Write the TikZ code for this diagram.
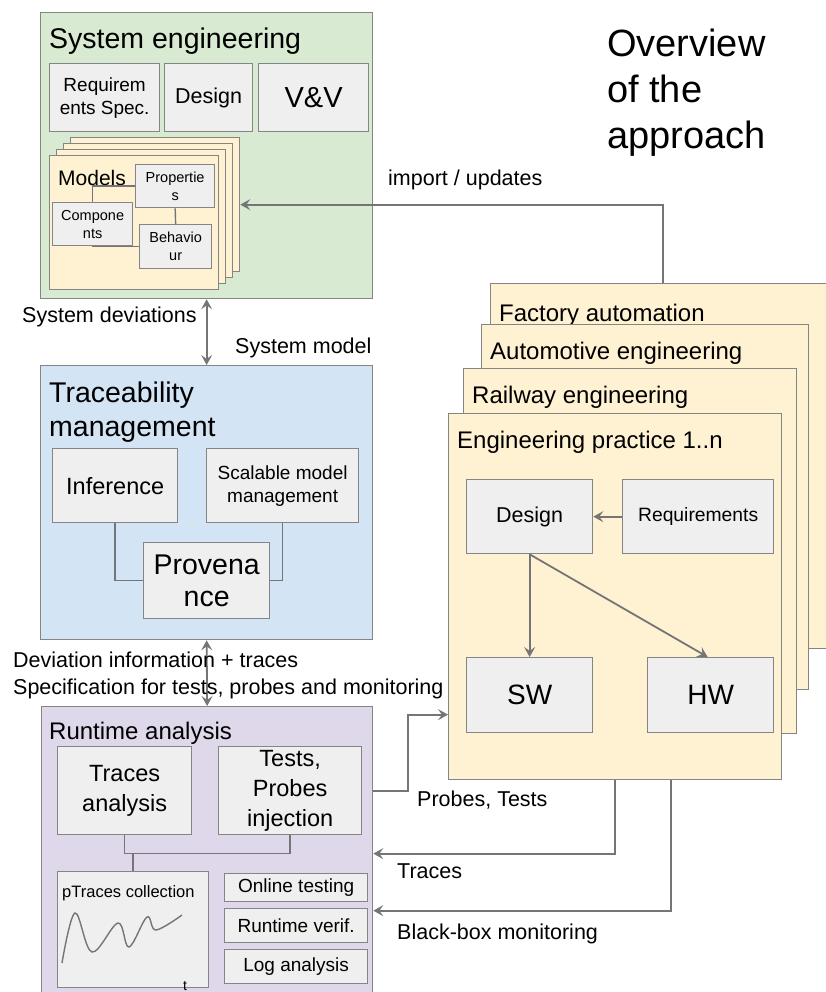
\documentclass[tikz,border=0pt]{standalone}
\usepackage{fontspec}
\setmainfont{Liberation Sans}
\usetikzlibrary{arrows.meta}
\definecolor{segreen}{HTML}{D9EAD3}
\definecolor{tmblue}{HTML}{D3E4F5}
\definecolor{rapurple}{HTML}{DFD7EA}
\definecolor{pageyellow}{HTML}{FFF2D3}
\definecolor{unitgray}{HTML}{EFEFEF}
\definecolor{framegray}{HTML}{858585}
\definecolor{wiregray}{HTML}{757575}
\newcommand{\fsize}[2]{\fontsize{#1}{#2}\selectfont}

\begin{document}
\begin{tikzpicture}[
  x=1pt, y=-1pt,
  area/.style={draw=framegray, line width=1.3pt, anchor=north west, inner sep=0pt},
  sheet/.style={area, fill=pageyellow},
  unit/.style={area, fill=unitgray, align=center},
  heading/.style={anchor=base west, inner sep=0pt, font=\fsize{24}{29}},
  bigheading/.style={anchor=north west, inner sep=0pt, align=left, font=\fsize{28.5}{34}},
  caption/.style={anchor=base west, inner sep=0pt, font=\fsize{21.5}{26}},
  wire/.style={draw=wiregray, line width=1.8pt},
  link/.style={draw=wiregray, line width=1.4pt},
  flow/.style={wire, -{Stealth[length=10pt, width=11pt, inset=4pt]}},
  twoway/.style={wire, {Stealth[length=10pt, width=11pt, inset=4pt]}-{Stealth[length=10pt, width=11pt, inset=4pt]}}
]
\useasboundingbox (0,0) rectangle (825,992);

% system engineering
\node[area, fill=segreen, minimum width=332, minimum height=286] (se) at (40,12) {};
\node[heading, font=\fsize{28.5}{34}] (setitle) at (49,49) {System engineering};
\node[unit, minimum width=110, minimum height=68, font=\fsize{19}{23}] (sereq) at (49,63) {Requirem\\ents Spec.};
\node[unit, minimum width=88, minimum height=68, font=\fsize{21.5}{26}] (sedes) at (164,63) {Design};
\node[unit, minimum width=110, minimum height=68, font=\fsize{29}{34}] (sevv) at (258,63) {V\&V};

\foreach \k in {3,2,1}
  \node[sheet, minimum width=169, minimum height=134] (models\k) at (49+7*\k,155-6*\k) {};
\node[sheet, minimum width=169, minimum height=134] (models) at (49,155) {};
\node[heading, font=\fsize{21}{25}] (modtitle) at (58,186) {Models};
\node[unit, minimum width=79, minimum height=43, font=\fsize{14.5}{18}] (props) at (135,164) {Propertie\\s};
\node[unit, minimum width=80, minimum height=43, font=\fsize{14.5}{18}] (comps) at (52,202) {Compone\\nts};
\node[unit, minimum width=72, minimum height=44, font=\fsize{14.5}{18}] (behav) at (139,224) {Behavio\\ur};
\draw[link] (comps.north) |- (props.west);
\draw[link] (comps.south) |- (behav.west);
\draw[link] (props.south) -- (behav.north);

\node[anchor=north west, inner sep=0pt, align=left, font=\fsize{38}{46}] (overview) at (607,29) {Overview\\of the\\approach};

% traceability management
\node[area, fill=tmblue, minimum width=332, minimum height=274] (tm) at (40,365) {};
\node[bigheading] (tmtitle) at (49,382) {Traceability\\management};
\node[unit, minimum width=125, minimum height=74, font=\fsize{23.5}{28}] (infer) at (52,448) {Inference};
\node[unit, minimum width=152, minimum height=74, font=\fsize{19}{23}] (scal) at (206,448) {Scalable model\\management};
\node[unit, minimum width=126, minimum height=76, font=\fsize{28.5}{32}] (prov) at (143,542) {Provena\\nce};
\draw[link] (infer.south) |- (prov.west);
\draw[link] (scal.south) |- (prov.east);

% runtime analysis
\node[area, fill=rapurple, minimum width=331, minimum height=294] (ra) at (41,706) {};
\node[heading] (ratitle) at (49,739) {Runtime analysis};
\node[unit, minimum width=134, minimum height=88, font=\fsize{23.5}{30}] (tra) at (57,746) {Traces\\analysis};
\node[unit, minimum width=143, minimum height=88, font=\fsize{23.5}{30}] (tests) at (218,746) {Tests,\\Probes\\injection};
\node[unit, minimum width=151, minimum height=116] (ptr) at (57,871) {};
\node[anchor=base west, inner sep=0pt, font=\fsize{16.5}{20}] (ptrtitle) at (62,897) {pTraces collection};
\draw[link] plot[smooth, tension=0.6] coordinates {(62,963) (75,913) (92,952) (118,923) (129,947) (147,917) (156,930) (182,915)};
\node[anchor=base, inner sep=0pt, font=\fsize{14}{17}] (taxis) at (185,990) {t};
\node[unit, minimum width=143, minimum height=28, font=\fsize{19}{23}] (online) at (224,873) {Online testing};
\node[unit, minimum width=143, minimum height=34, font=\fsize{19}{23}] (rverif) at (224,908) {Runtime verif.};
\node[unit, minimum width=143, minimum height=34, font=\fsize{19}{23}] (logan) at (224,949) {Log analysis};
\draw[link] (tra.south) -- ++(0,18) coordinate (join) -| (tests.south);
\draw[link] (ptr.north) -- (ptr.north |- join);

% engineering practices
\node[sheet, minimum width=345, minimum height=365] (factory) at (490,283) {};
\node[heading] (factlbl) at (499,321) {Factory automation};
\node[sheet, minimum width=327, minimum height=365] (auto) at (481,324) {};
\node[heading] (autolbl) at (490,359) {Automotive engineering};
\node[sheet, minimum width=333, minimum height=365] (rail) at (463,368) {};
\node[heading] (raillbl) at (472,403) {Railway engineering};
\node[sheet, minimum width=333, minimum height=366] (ep1) at (448,413) {};
\node[heading] (ep1lbl) at (457,448) {Engineering practice 1..n};
\node[unit, minimum width=126, minimum height=74, font=\fsize{21.5}{26}] (des) at (466,479) {Design};
\node[unit, minimum width=151, minimum height=74, font=\fsize{19.3}{23}] (req) at (622,479) {Requirements};
\node[unit, minimum width=126, minimum height=75, font=\fsize{28}{33}] (sw) at (466,657) {SW};
\node[unit, minimum width=126, minimum height=75, font=\fsize{28}{33}] (hw) at (647,657) {HW};
\draw[flow] (req.west) -- (des.east);
\draw[flow] (des.south) -- (sw.north);
\draw[flow] (des.south) -- ([xshift=-3pt]hw.north);

% connections between blocks
\draw[flow] (factory.north) |- (models3.east);
\node[caption] (implbl) at (388,186) {import / updates};
\draw[twoway] (se.south) -- (tm.north);
\node[caption] (devlbl) at (22,322) {System deviations};
\node[caption] (modlbl) at (235,353) {System model};
\draw[twoway] (tm.south) -- (ra.north);
\node[caption] (infolbl) at (13,667) {Deviation information + traces};
\node[caption] (speclbl) at (13,694) {Specification for tests, probes and monitoring};
\draw[flow] (tests.east -| ra.east) -- ++(35,0) |- ([yshift=-118pt]ep1.west);
\node[caption] (probelbl) at (417,806) {Probes, Tests};
\draw[flow] (ep1.south) |- (ra.east);
\node[caption] (tracelbl) at (397,878) {Traces};
\draw[flow] ([xshift=56pt]ep1.south) |- ([yshift=-57pt]ra.east);
\node[caption] (bboxlbl) at (397,939) {Black-box monitoring};
\end{tikzpicture}
\end{document}
